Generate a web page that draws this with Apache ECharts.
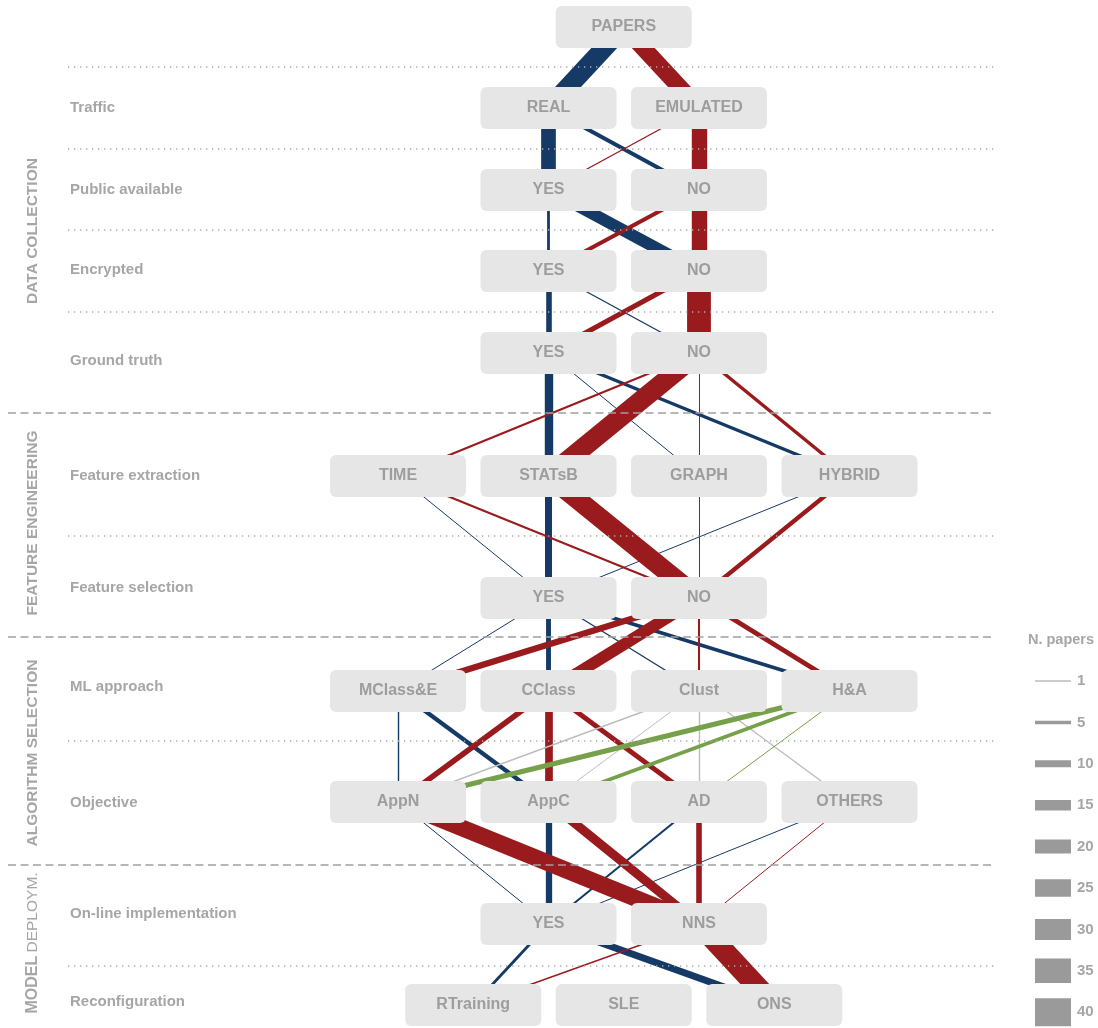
<!DOCTYPE html>
<html>
<head>
<meta charset="utf-8">
<script src="https://cdn.jsdelivr.net/npm/echarts@6/dist/echarts.min.js"></script>
<style>
html,body{margin:0;padding:0;background:#fff;}
#chart{width:1098px;height:1028px;}
</style>
</head>
<body>
<div id="chart"></div>
<script>
// ---------- data ----------
const stageLabels = ['Traffic', 'Public available', 'Encrypted', 'Ground truth', 'Feature extraction',
  'Feature selection', 'ML approach', 'Objective', 'On-line implementation', 'Reconfiguration'];
const groupLabels = ['DATA COLLECTION', 'FEATURE ENGINEERING', 'ALGORITHM SELECTION', 'MODEL DEPLOYM.'];
const levelNodes = [
  ['PAPERS'],
  ['REAL', 'EMULATED'],
  ['YES', 'NO'],
  ['YES', 'NO'],
  ['YES', 'NO'],
  ['TIME', 'STATsB', 'GRAPH', 'HYBRID'],
  ['YES', 'NO'],
  ['MClass&E', 'CClass', 'Clust', 'H&A'],
  ['AppN', 'AppC', 'AD', 'OTHERS'],
  ['YES', 'NNS'],
  ['RTraining', 'SLE', 'ONS']
];
// flows between consecutive levels: [source index, target index, n. papers, colour group]
const flowTraffic = [[0, 0, 27, 'real'], [0, 1, 24, 'emu']];
const flowPublic = [[0, 0, 21, 'real'], [0, 1, 6, 'real'], [1, 0, 2, 'emu'], [1, 1, 22, 'emu']];
const flowEncrypted = [[0, 0, 4, 'real'], [0, 1, 17, 'real'], [1, 0, 6, 'emu'], [1, 1, 22, 'emu']];
const flowGroundTruth = [[0, 0, 8, 'real'], [0, 1, 2, 'real'], [1, 0, 7, 'emu'], [1, 1, 34, 'emu']];
const flowExtraction = [[0, 1, 12, 'real'], [0, 2, 1, 'real'], [0, 3, 5, 'real'],
  [1, 0, 3, 'emu'], [1, 1, 28, 'emu'], [1, 2, 1, 'emu'], [1, 3, 5, 'emu']];
const flowSelection = [[0, 0, 1, 'real'], [1, 0, 10, 'real'], [3, 0, 1, 'real'],
  [0, 1, 3, 'emu'], [1, 1, 28, 'emu'], [2, 1, 1, 'emu'], [3, 1, 6, 'emu']];
const flowApproach = [[0, 0, 1, 'real'], [0, 1, 7, 'real'], [0, 2, 2, 'real'], [0, 3, 5, 'real'],
  [1, 0, 9, 'emu'], [1, 1, 17, 'emu'], [1, 2, 3, 'emu'], [1, 3, 7, 'emu']];
const flowObjective = [[0, 0, 2, 'real'], [0, 1, 6, 'real'],
  [1, 0, 8, 'emu'], [1, 1, 11, 'emu'], [1, 2, 7, 'emu'],
  [2, 0, 2, 'clust'], [2, 1, 1, 'clust'], [2, 2, 2, 'clust'], [2, 3, 2, 'clust'],
  [3, 0, 7, 'ha'], [3, 1, 5, 'ha'], [3, 2, 1, 'ha']];
const flowOnline = [[0, 0, 1, 'real'], [1, 0, 9, 'real'], [2, 0, 3, 'real'], [3, 0, 1, 'real'],
  [0, 1, 24, 'emu'], [1, 1, 13, 'emu'], [2, 1, 8, 'emu'], [3, 1, 1, 'emu']];
const flowReconfig = [[0, 0, 4, 'real'], [0, 2, 10, 'real'], [1, 0, 2, 'emu'], [1, 2, 30, 'emu']];
const legendValues = [1, 5, 10, 15, 20, 25, 30, 35, 40];

// ---------- layout & style ----------
const flows = [flowTraffic, flowPublic, flowEncrypted, flowGroundTruth, flowExtraction,
  flowSelection, flowApproach, flowObjective, flowOnline, flowReconfig];
const levelY = [27, 108, 190, 271, 353, 476, 598, 691, 802, 924, 1005];
const labelY = [108, 190, 270, 361, 476, 588, 687, 803, 914, 1002];
const dottedY = [67, 149, 230, 312, 536, 741, 966];
const dashedY = [413, 637, 865];
const groupCenterY = [231, 523, 753, 943];
const colours = { real: '#163a66', emu: '#9a1b1e', clust: '#bdbdbd', ha: '#76a04a' };
const colourOrder = ['real', 'emu', 'clust', 'ha'];
const widthOf = n => Math.max(1, n * 0.7);
const FONT = '"Liberation Sans", Arial, sans-serif';
const TXT = '#a6a6a6';

const nodes = [];
const levelStart = [];
levelNodes.forEach((lv, li) => {
  levelStart.push(nodes.length);
  lv.forEach((nm, i) => {
    nodes.push({
      name: 'n' + li + '_' + i,
      display: nm,
      value: [1.5 + (i - (lv.length - 1) / 2), levelY[li]]
    });
  });
});
const links = [];
flows.forEach((fl, si) => {
  fl.forEach(([s, t, n, c]) => {
    links.push({
      source: levelStart[si] + s,
      target: levelStart[si + 1] + t,
      value: n,
      order: colourOrder.indexOf(c),
      lineStyle: { color: colours[c], width: widthOf(n), opacity: 1, curveness: 0, cap: 'butt' }
    });
  });
});
links.sort((a, b) => a.order - b.order);

const graphics = [];
dottedY.forEach(y => graphics.push({
  type: 'line', z: 10, silent: true,
  shape: { x1: 68, y1: y, x2: 995, y2: y },
  style: { stroke: '#aaaaaa', lineWidth: 1.3, lineDash: [1.3, 4.7] }
}));
dashedY.forEach(y => graphics.push({
  type: 'line', z: 10, silent: true,
  shape: { x1: 8, y1: y, x2: 992, y2: y },
  style: { stroke: '#a0a0a0', lineWidth: 1.5, lineDash: [8, 4.5] }
}));
stageLabels.forEach((t, i) => graphics.push({
  type: 'text', z: 10, x: 70, y: labelY[i],
  style: { text: t, fill: TXT, font: 'bold 15px ' + FONT, textAlign: 'left', textVerticalAlign: 'middle' }
}));
groupLabels.forEach((t, i) => {
  let style;
  if (t === 'MODEL DEPLOYM.') {
    style = {
      text: '{a|MODEL} {b|DEPLOYM.}',
      rich: {
        a: { fill: TXT, font: 'bold 16px ' + FONT },
        b: { fill: TXT, font: '15.5px ' + FONT }
      },
      textAlign: 'center', textVerticalAlign: 'middle'
    };
  } else {
    style = { text: t, fill: TXT, font: 'bold 15.5px ' + FONT, textAlign: 'center', textVerticalAlign: 'middle' };
  }
  graphics.push({ type: 'text', z: 10, x: 33, y: groupCenterY[i], rotation: Math.PI / 2, style });
});
graphics.push({
  type: 'text', z: 10, x: 1061, y: 640,
  style: { text: 'N. papers', fill: TXT, font: 'bold 14.5px ' + FONT, textAlign: 'center', textVerticalAlign: 'middle' }
});
legendValues.forEach((v, i) => {
  const y = 681 + i * 41.4;
  graphics.push({
    type: 'line', z: 10, silent: true,
    shape: { x1: 1035, y1: y, x2: 1071, y2: y },
    style: { stroke: '#9a9a9a', lineWidth: widthOf(v), lineCap: 'butt' }
  });
  graphics.push({
    type: 'text', z: 10, x: 1077, y: y,
    style: { text: String(v), fill: TXT, font: 'bold 15px ' + FONT, textAlign: 'left', textVerticalAlign: 'middle' }
  });
});

const chart = echarts.init(document.getElementById('chart'), null, { renderer: 'canvas' });
chart.setOption({
  animation: false,
  backgroundColor: '#ffffff',
  grid: { left: 398, right: 248.5, top: 0, bottom: 0 },
  xAxis: { type: 'value', min: 0, max: 3, show: false },
  yAxis: { type: 'value', min: 0, max: 1028, inverse: true, show: false },
  graphic: graphics,
  series: [{
    type: 'graph',
    coordinateSystem: 'cartesian2d',
    layout: 'none',
    z: 2,
    symbol: 'path://M6,0 H130 A6,6 0 0 1 136,6 V36 A6,6 0 0 1 130,42 H6 A6,6 0 0 1 0,36 V6 A6,6 0 0 1 6,0 Z',
    symbolSize: [136, 42],
    itemStyle: { color: '#e6e6e6', opacity: 1 },
    label: {
      show: true, position: 'inside', color: '#9d9d9d', fontSize: 16, fontWeight: 'bold', fontFamily: FONT,
      formatter: p => p.data.display
    },
    emphasis: { disabled: true },
    lineStyle: { opacity: 1 },
    data: nodes,
    links: links
  }]
});
</script>
</body>
</html>
